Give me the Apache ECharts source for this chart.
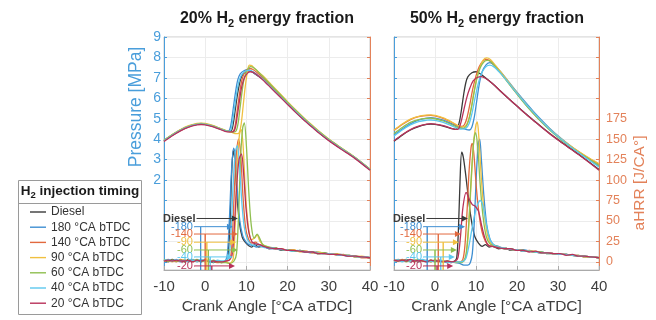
<!DOCTYPE html>
<html><head><meta charset="utf-8">
<script src="https://cdn.jsdelivr.net/npm/echarts@6/dist/echarts.min.js"></script>
<style>html,body{margin:0;padding:0;background:#fff}#c{width:656px;height:320px}</style>
</head><body><div id="c"></div>
<script>
// ---------- DATA ----------
const seriesNames = ['Diesel','180 °CA bTDC','140 °CA bTDC','90 °CA bTDC','60 °CA bTDC','40 °CA bTDC','20 °CA bTDC'];
const panelTitles = ['20% H','50% H'];
const caTicks = [-10,0,10,20,30,40];
const pressureTicks = [-2,-1,0,1,2,3,4,5,6,7,8,9];
const pressureLabels = [2,3,4,5,6,7,8,9];
const hrrTicks = [0,25,50,75,100,125,150,175,200,225,250,275];
const hrrLabels = [0,25,50,75,100,125,150,175];

// Pressure [MPa], 20% H2
const p20_diesel = [[-10,3.92],[-8,4.2],[-6,4.44],[-4,4.62],[-2,4.73],[-1,4.75],[0,4.73],[2,4.63],[4,4.48],[5.5,4.38],[6.3,4.4],[6.8,4.75],[7.3,5.45],[7.8,6.15],[8.3,6.7],[8.8,7.05],[9.5,7.25],[10.5,7.34],[11.2,7.32],[12,7.2],[14,6.93],[16,6.53],[18,6.13],[20,5.73],[22,5.33],[24,4.95],[26,4.6],[28,4.26],[30,3.95],[33,3.53],[36,3.13],[40,2.5]];
const p20_180 = [[-10,3.94],[-8,4.22],[-6,4.46],[-4,4.64],[-2,4.75],[-1,4.77],[0,4.75],[2,4.65],[4,4.49],[5.3,4.4],[5.9,4.45],[6.4,4.9],[6.9,5.65],[7.4,6.35],[7.9,6.9],[8.5,7.2],[9.5,7.36],[10.3,7.4],[11,7.36],[12,7.22],[14,6.95],[16,6.55],[18,6.15],[20,5.75],[22,5.35],[24,4.97],[26,4.62],[28,4.28],[30,3.97],[33,3.55],[36,3.15],[40,2.52]];
const p20_140 = [[-10,3.9],[-8,4.18],[-6,4.42],[-4,4.6],[-2,4.72],[-1,4.74],[0,4.72],[2,4.62],[4,4.47],[5.5,4.37],[6.6,4.36],[7.2,4.6],[7.7,5.3],[8.2,6.05],[8.7,6.7],[9.3,7.15],[10,7.38],[10.8,7.46],[11.5,7.42],[12.5,7.27],[14,7.0],[16,6.6],[18,6.19],[20,5.78],[22,5.38],[24,5.0],[26,4.64],[28,4.3],[30,3.98],[33,3.56],[36,3.15],[40,2.52]];
const p20_90 = [[-10,3.95],[-8,4.23],[-6,4.47],[-4,4.66],[-2,4.77],[-1,4.79],[0,4.77],[2,4.66],[4,4.5],[5.5,4.4],[6.5,4.33],[7.5,4.27],[8.2,4.3],[8.7,4.7],[9.2,5.6],[9.7,6.55],[10.2,7.25],[10.7,7.62],[11.3,7.6],[12,7.45],[14,7.1],[16,6.68],[18,6.26],[20,5.84],[22,5.43],[24,5.04],[26,4.68],[28,4.33],[30,4.01],[33,3.58],[36,3.17],[40,2.54]];
const p20_60 = [[-10,3.93],[-8,4.21],[-6,4.45],[-4,4.63],[-2,4.74],[-1,4.76],[0,4.74],[2,4.64],[4,4.48],[5.5,4.39],[6.8,4.35],[7.5,4.4],[8,4.8],[8.5,5.6],[9,6.4],[9.5,7.0],[10.2,7.38],[11,7.55],[11.6,7.52],[12.5,7.38],[14,7.06],[16,6.64],[18,6.22],[20,5.8],[22,5.4],[24,5.01],[26,4.65],[28,4.31],[30,3.99],[33,3.57],[36,3.16],[40,2.53]];
const p20_40 = [[-10,3.91],[-8,4.19],[-6,4.43],[-4,4.61],[-2,4.72],[-1,4.74],[0,4.72],[2,4.62],[4,4.47],[5.4,4.38],[6.1,4.4],[6.6,4.8],[7.1,5.5],[7.6,6.2],[8.1,6.75],[8.7,7.1],[9.5,7.3],[10.4,7.37],[11.2,7.34],[12.3,7.2],[14,6.93],[16,6.53],[18,6.13],[20,5.73],[22,5.34],[24,4.96],[26,4.61],[28,4.27],[30,3.96],[33,3.54],[36,3.14],[40,2.51]];
const p20_20 = [[-10,3.89],[-8,4.17],[-6,4.41],[-4,4.59],[-2,4.7],[-1,4.72],[0,4.7],[2,4.6],[4,4.45],[5.5,4.36],[6.7,4.36],[7.3,4.55],[7.8,5.15],[8.3,5.85],[8.8,6.5],[9.4,6.95],[10.2,7.22],[11,7.3],[11.8,7.26],[13,7.08],[14.5,6.8],[16,6.5],[18,6.1],[20,5.7],[22,5.3],[24,4.93],[26,4.58],[28,4.24],[30,3.93],[33,3.51],[36,3.11],[40,2.48]];

// Pressure [MPa], 50% H2
const p50_diesel = [[-10,3.9],[-8,4.2],[-6,4.45],[-4,4.62],[-2,4.72],[-1,4.74],[0,4.72],[2,4.64],[4,4.52],[5,4.48],[5.5,4.56],[6,4.9],[6.5,5.5],[7,6.2],[7.5,6.75],[8,7.05],[9,7.25],[10,7.3],[11,7.2],[12,7.05],[14,6.72],[16,6.35],[18,5.98],[20,5.62],[22,5.27],[24,4.93],[26,4.6],[28,4.28],[30,3.98],[33,3.55],[36,3.12],[40,2.52]];
const p50_180 = [[-10,4.2],[-8,4.5],[-6,4.75],[-4,4.93],[-2,5.03],[-1,5.05],[0,5.03],[2,4.93],[4,4.76],[5.5,4.62],[6.5,4.55],[7.5,4.48],[8.4,4.45],[9,4.6],[9.6,5.1],[10.2,5.9],[10.8,6.7],[11.5,7.3],[12.5,7.65],[13.4,7.75],[14.5,7.62],[16,7.3],[18,6.8],[20,6.3],[22,5.82],[24,5.36],[26,4.93],[28,4.53],[30,4.17],[33,3.68],[36,3.24],[40,2.66]];
const p50_140 = [[-10,4.42],[-8,4.72],[-6,4.96],[-4,5.1],[-2,5.16],[-1,5.17],[0,5.14],[2,5.02],[4,4.83],[5.5,4.66],[6.5,4.62],[7.2,4.72],[7.8,5.05],[8.5,5.7],[9.2,6.45],[10,7.1],[10.8,7.55],[11.7,7.83],[12.5,7.9],[13.5,7.82],[15,7.5],[17,7.0],[19,6.48],[21,5.98],[23,5.5],[25,5.06],[27,4.66],[29,4.29],[31,3.96],[34,3.52],[37,3.13],[40,2.78]];
const p50_90 = [[-10,4.44],[-8,4.74],[-6,4.98],[-4,5.12],[-2,5.18],[-1,5.19],[0,5.16],[2,5.04],[4,4.85],[5.5,4.68],[6.5,4.6],[7.5,4.66],[8.2,4.95],[8.8,5.5],[9.5,6.3],[10.2,7.0],[11,7.55],[11.8,7.88],[12.6,7.98],[13.5,7.9],[15,7.55],[17,7.05],[19,6.52],[21,6.01],[23,5.53],[25,5.08],[27,4.68],[29,4.31],[31,3.98],[34,3.54],[37,3.15],[40,2.8]];
const p50_60 = [[-10,4.27],[-8,4.57],[-6,4.82],[-4,4.96],[-2,5.02],[-1,5.03],[0,5.0],[2,4.89],[4,4.72],[5.5,4.58],[6.5,4.53],[7.5,4.6],[8.2,4.92],[8.8,5.45],[9.5,6.25],[10.2,6.95],[11,7.48],[11.9,7.78],[12.8,7.86],[13.7,7.78],[15,7.48],[17,6.98],[19,6.46],[21,5.95],[23,5.47],[25,5.03],[27,4.63],[29,4.26],[31,3.93],[34,3.5],[37,3.1],[40,2.72]];
const p50_40 = [[-10,4.15],[-8,4.45],[-6,4.7],[-4,4.86],[-2,4.93],[-1,4.94],[0,4.92],[2,4.82],[4,4.66],[5.5,4.53],[6.5,4.49],[7.5,4.52],[8.3,4.75],[9,5.25],[9.7,5.95],[10.4,6.6],[11.2,7.15],[12.2,7.5],[13.3,7.62],[14.3,7.55],[16,7.22],[18,6.74],[20,6.24],[22,5.76],[24,5.31],[26,4.88],[28,4.49],[30,4.13],[33,3.64],[36,3.2],[40,2.64]];
const p50_20 = [[-10,3.92],[-8,4.22],[-6,4.47],[-4,4.64],[-2,4.74],[-1,4.76],[0,4.74],[2,4.66],[4,4.53],[5,4.48],[5.7,4.5],[6.3,4.8],[7,5.4],[7.7,6.0],[8.5,6.5],[9.3,6.85],[10.3,7.02],[11.3,7.06],[12.3,6.98],[14,6.72],[16,6.35],[18,5.98],[20,5.62],[22,5.26],[24,4.92],[26,4.58],[28,4.26],[30,3.96],[33,3.53],[36,3.1],[40,2.48]];

// aHRR [J/CA°], 20% H2
const a20_diesel = [[-10,2],[-9,0],[-8,3],[-7,1],[-6,2],[-5,0],[-4,3],[-3,1],[-2,2],[-1,0],[0,2],[1,1],[2,-1],[3,0],[4,-1],[5,1],[5.5,6],[6,45],[6.4,105],[6.8,136],[7.2,124],[7.7,82],[8.3,48],[9,30],[9.7,24],[10.5,20],[11.3,18],[12,21],[13,18],[14,19],[15.5,16],[17,17],[18.5,14],[20,15],[21.5,13],[23,14],[24.5,12],[26,12],[27.5,10],[29,11],[30.5,9],[32,9],[33.5,8],[35,8],[36.5,6],[38,6],[40,5]];
const a20_180 = [[-10,1],[-9,3],[-8,1],[-7,2],[-6,0],[-5,2],[-4,1],[-3,3],[-2,0],[-1,2],[0,1],[1,2],[2,0],[3,1],[4,0],[5,2],[5.4,10],[5.9,55],[6.4,112],[6.9,139],[7.3,132],[7.8,88],[8.4,50],[9.1,32],[9.8,25],[10.6,21],[11.5,20],[12.5,18],[13.5,20],[15,17],[16.5,16],[18,16],[19.5,14],[21,15],[22.5,13],[24,13],[25.5,11],[27,12],[28.5,10],[30,10],[31.5,9],[33,9],[34.5,7],[36,7],[37.5,6],[39,6],[40,5]];
const a20_140 = [[-10,2],[-9,1],[-8,2],[-7,0],[-6,3],[-5,1],[-4,2],[-3,0],[-2,2],[-1,1],[0,3],[1,0],[2,1],[3,-1],[4,0],[5,1],[6,3],[6.5,22],[7,78],[7.5,128],[8.1,150],[8.6,132],[9.2,78],[9.8,42],[10.5,28],[11.3,23],[12.2,24],[13,21],[14,20],[15.5,17],[17,17],[18.5,15],[20,15],[21.5,14],[23,13],[24.5,13],[26,11],[27.5,11],[29,10],[30.5,10],[32,8],[33.5,9],[35,7],[36.5,7],[38,5],[40,5]];
const a20_90 = [[-10,1],[-9,2],[-8,0],[-7,2],[-6,1],[-5,3],[-4,0],[-3,2],[-2,1],[-1,2],[0,0],[1,2],[2,0],[3,1],[4,-1],[5,0],[6,-2],[6.8,4],[7.3,48],[7.8,118],[8.3,155],[8.7,162],[9.2,142],[9.8,82],[10.5,42],[11.2,27],[12,29],[12.6,33],[13.3,25],[14.3,20],[15.5,18],[17,16],[18.5,16],[20,14],[21.5,15],[23,12],[24.5,13],[26,11],[27.5,12],[29,10],[30.5,9],[32,10],[33.5,8],[35,8],[36.5,6],[38,7],[40,5]];
const a20_60 = [[-10,3],[-9,1],[-8,2],[-7,1],[-6,2],[-5,0],[-4,2],[-3,1],[-2,3],[-1,1],[0,1],[1,0],[2,2],[3,0],[4,-1],[5,-1],[6,-2],[7,1],[7.6,10],[8.1,58],[8.6,128],[9.1,164],[9.5,170],[10,142],[10.6,84],[11.2,44],[11.9,29],[12.6,34],[13.2,29],[14,21],[15.5,18],[17,17],[18.5,15],[20,15],[21.5,13],[23,14],[24.5,12],[26,12],[27.5,10],[29,11],[30.5,9],[32,9],[33.5,8],[35,8],[36.5,7],[38,6],[40,5]];
const a20_40 = [[-10,2],[-9,2],[-8,1],[-7,3],[-6,1],[-5,2],[-4,0],[-3,2],[-2,1],[-1,3],[0,1],[1,1],[2,0],[3,2],[4,1],[5,2],[5.8,8],[6.3,40],[6.8,96],[7.3,134],[7.8,142],[8.3,121],[8.9,72],[9.5,42],[10.2,28],[11,22],[11.8,20],[12.7,22],[13.5,19],[15,17],[16.5,17],[18,15],[19.5,15],[21,13],[22.5,14],[24,12],[25.5,12],[27,11],[28.5,10],[30,10],[31.5,9],[33,8],[34.5,8],[36,7],[37.5,6],[39,6],[40,5]];
const a20_20 = [[-10,1],[-9,2],[-8,1],[-7,2],[-6,1],[-5,1],[-4,2],[-3,0],[-2,2],[-1,1],[0,2],[1,0],[2,1],[3,0],[4,0],[5,1],[5.8,2],[6.5,8],[7,36],[7.6,90],[8.2,125],[8.8,132],[9.3,110],[9.9,66],[10.6,36],[11.4,24],[12.3,22],[13.2,21],[14.2,19],[15.5,17],[17,16],[18.5,16],[20,14],[21.5,14],[23,13],[24.5,12],[26,12],[27.5,10],[29,10],[30.5,9],[32,9],[33.5,8],[35,7],[36.5,7],[38,6],[40,5]];

// aHRR [J/CA°], 50% H2
const a50_diesel = [[-10,1],[-9,2],[-8,1],[-7,3],[-6,1],[-5,2],[-4,0],[-3,2],[-2,1],[-1,2],[0,0],[1,2],[2,1],[3,0],[4,0],[4.8,1],[5.3,5],[5.7,38],[6.1,98],[6.5,134],[6.9,128],[7.5,106],[8.1,80],[8.9,50],[9.7,31],[10.6,23],[11.5,19],[12.3,21],[13.2,18],[14,19],[15.5,16],[17,17],[18.5,14],[20,15],[21.5,13],[23,13],[24.5,12],[26,11],[27.5,11],[29,10],[30.5,9],[32,9],[33.5,8],[35,8],[36.5,6],[38,6],[40,5]];
const a50_180 = [[-10,1],[-9,3],[-8,1],[-7,2],[-6,0],[-5,2],[-4,1],[-3,2],[-2,0],[-1,1],[0,2],[1,0],[2,1],[3,-1],[4,0],[5,-1],[6,-2],[7,-4],[8,-4],[8.6,-1],[9.1,10],[9.6,50],[10.1,108],[10.6,146],[10.9,150],[11.3,126],[11.9,82],[12.6,46],[13.4,28],[14.3,21],[15.5,19],[17,16],[18.5,16],[20,14],[21.5,15],[23,13],[24.5,12],[26,12],[27.5,10],[29,10],[30.5,9],[32,9],[33.5,8],[35,7],[36.5,7],[38,6],[40,5]];
const a50_140 = [[-10,2],[-9,1],[-8,3],[-7,1],[-6,2],[-5,0],[-4,2],[-3,1],[-2,2],[-1,0],[0,2],[1,1],[2,0],[3,1],[4,-1],[5,0],[6,0],[6.8,3],[7.3,20],[7.8,60],[8.3,110],[8.8,140],[9.1,145],[9.5,131],[10.1,90],[10.8,56],[11.5,36],[12.3,25],[13.2,20],[14.2,19],[15.5,17],[17,17],[18.5,15],[20,15],[21.5,13],[23,14],[24.5,12],[26,11],[27.5,11],[29,10],[30.5,9],[32,9],[33.5,8],[35,7],[36.5,7],[38,6],[40,5]];
const a50_90 = [[-10,1],[-9,2],[-8,1],[-7,2],[-6,1],[-5,3],[-4,1],[-3,2],[-2,0],[-1,2],[0,1],[1,0],[2,1],[3,0],[4,0],[5,-1],[6,0],[7,1],[7.6,8],[8.2,40],[8.8,95],[9.4,145],[10,168],[10.3,171],[10.7,152],[11.3,102],[12,60],[12.8,33],[13.6,23],[14.5,20],[15.5,18],[17,17],[18.5,15],[20,15],[21.5,14],[23,13],[24.5,13],[26,11],[27.5,11],[29,10],[30.5,9],[32,9],[33.5,8],[35,8],[36.5,6],[38,6],[40,5]];
const a50_60 = [[-10,2],[-9,1],[-8,2],[-7,0],[-6,2],[-5,1],[-4,3],[-3,1],[-2,1],[-1,0],[0,2],[1,1],[2,0],[3,1],[4,0],[5,0],[6,-1],[7,1],[7.6,10],[8.2,45],[8.8,100],[9.4,145],[9.9,158],[10.4,141],[11,96],[11.7,56],[12.5,31],[13.4,22],[14.4,20],[15.5,18],[17,16],[18.5,16],[20,14],[21.5,14],[23,13],[24.5,12],[26,12],[27.5,10],[29,10],[30.5,9],[32,9],[33.5,8],[35,7],[36.5,7],[38,6],[40,5]];
const a50_40 = [[-10,1],[-9,2],[-8,0],[-7,2],[-6,1],[-5,2],[-4,1],[-3,3],[-2,1],[-1,1],[0,0],[1,2],[2,1],[3,0],[4,-1],[5,0],[6,0],[7,1],[7.6,5],[8.3,20],[9,40],[9.7,58],[10.4,70],[11,75],[11.5,72],[12,61],[12.7,41],[13.5,26],[14.5,20],[15.5,18],[17,17],[18.5,15],[20,15],[21.5,13],[23,13],[24.5,12],[26,11],[27.5,11],[29,10],[30.5,9],[32,9],[33.5,8],[35,7],[36.5,7],[38,6],[40,5]];
const a50_20 = [[-10,2],[-9,1],[-8,2],[-7,1],[-6,3],[-5,1],[-4,2],[-3,1],[-2,0],[-1,2],[0,1],[1,1],[2,0],[3,1],[4,0],[5,1],[5.6,5],[6.2,30],[6.8,66],[7.6,85],[8.4,76],[9.1,70],[9.8,68],[10.6,62],[11.3,46],[12.1,30],[13,20],[14,19],[15.5,17],[17,16],[18.5,16],[20,14],[21.5,14],[23,12],[24.5,13],[26,11],[27.5,11],[29,10],[30.5,10],[32,8],[33.5,9],[35,7],[36.5,7],[38,6],[40,5]];

// Injection annotations (label, aHRR level, label-end CA, vertical CA, arrow CA)
const annotLabels = ['Diesel','-180','-140','-90','-60','-40','-20'];
const annotLevel = [53,43,34,24,14.5,6,-5];
const annotStart20 = [-2.0,-2.6,-2.6,-2.6,-2.6,-2.6,-2.6];
const annotVert20 = [null,-1.1,0,0.4,0.8,1.2,1.6];
const annotEnd20 = [7.2,6.0,7.2,6.8,7.2,6.0,6.5];
const annotStart50 = [-2.0,-2.8,-2.8,-2.8,-2.8,-2.8,-2.8];
const annotVert50 = [null,-1.9,0.8,2.0,0.0,1.4,0.5];
const annotEnd50 = [7.3,6.6,5.6,5.1,4.6,4.1,3.7];

// ---------- BUILD ----------
const FONT = 'Liberation Sans, Arial, sans-serif';
const colors = ['#3a3a3a','#3f8fd2','#e2693e','#f0c040','#8fbf50','#5cc8ee','#b8325a'];
const BLUE = '#4a9edb', ORANGE = '#e3825a', GRIDC = '#ececec';
const pressure = [[p20_diesel,p20_180,p20_140,p20_90,p20_60,p20_40,p20_20],[p50_diesel,p50_180,p50_140,p50_90,p50_60,p50_40,p50_20]];
const hrr = [[a20_diesel,a20_180,a20_140,a20_90,a20_60,a20_40,a20_20],[a50_diesel,a50_180,a50_140,a50_90,a50_60,a50_40,a50_20]];
const annot = [[annotStart20,annotVert20,annotEnd20],[annotStart50,annotVert50,annotEnd50]];

const series = [];
for (let g = 0; g < 2; g++) {
  for (let i = 0; i < 7; i++) {
    series.push({name: seriesNames[i], type:'line', xAxisIndex:g, yAxisIndex:g*2, data: pressure[g][i],
      showSymbol:false, symbol:'none', smooth:0.3, lineStyle:{width:1.3, color:colors[i]}, itemStyle:{color:colors[i]}, z:2, silent:true});
  }
  for (let i = 0; i < 7; i++) {
    series.push({name: seriesNames[i], type:'line', xAxisIndex:g, yAxisIndex:g*2+1, data: hrr[g][i],
      showSymbol:false, symbol:'none', smooth:0.3, lineStyle:{width:1.3, color:colors[i]}, itemStyle:{color:colors[i]}, z:3, silent:true});
  }
  const [st, vt, en] = annot[g];
  for (let i = 0; i < 7; i++) {
    const y = annotLevel[i];
    const first = {value:[st[i], y], symbol:'circle', symbolSize:1,
      label:{show:true, position:'left', distance:1, formatter: annotLabels[i],
      color: colors[i], fontSize:11, fontFamily:FONT, fontWeight: i===0?'bold':'normal'}};
    const pts = [first];
    if (vt[i] !== null) { pts.push([vt[i], y], [vt[i], -10], [vt[i], y]); }
    pts.push({value:[en[i], y], symbol:'triangle', symbolSize:6, symbolRotate:-90});
    series.push({name:'annot'+g+i, type:'line', xAxisIndex:g, yAxisIndex:g*2+1, data: pts,
      symbol:'circle', symbolSize:0.01, showSymbol:true, showAllSymbol:true, lineStyle:{width:1, color:colors[i]}, itemStyle:{color:colors[i]}, z:6, silent:true, animation:false});
  }
}

function xAx(g){
  return {type:'value', gridIndex:g, min:-10, max:40, interval:10,
    axisLine:{show:true, onZero:false, lineStyle:{color:'#aaaaaa'}},
    axisTick:{show:true, inside:true, length:4, lineStyle:{color:'#aaaaaa'}},
    axisLabel:{color:'#404040', fontSize:15, fontFamily:FONT, margin:9},
    splitLine:{show:true, lineStyle:{color:GRIDC}},
    name:'Crank Angle [°CA aTDC]', nameLocation:'middle', nameGap:29,
    nameTextStyle:{color:'#404040', fontSize:15.5, fontFamily:FONT}};
}
function pAx(g, labels){
  return {type:'value', gridIndex:g, position:'left', min:-2.4, max:9,
    axisLine:{show:true, onZero:false, lineStyle:{color:BLUE}},
    axisTick:{show:true, inside:true, length:3, customValues:pressureTicks, lineStyle:{color:BLUE}},
    axisLabel:{show:labels, customValues:pressureLabels, color:BLUE, fontSize:14, fontFamily:FONT, margin:3},
    splitLine:{show:true, lineStyle:{color:GRIDC}}};
}
function hAx(g, labels){
  return {type:'value', gridIndex:g, position:'right', min:-10, max:275,
    axisLine:{show:true, onZero:false, lineStyle:{color:ORANGE}},
    axisTick:{show:true, inside:true, length:3, customValues:hrrTicks, lineStyle:{color:ORANGE}},
    axisLabel:{show:labels, customValues:hrrLabels, color:ORANGE, fontSize:12.5, fontFamily:FONT, margin:7},
    splitLine:{show:false}};
}

const titleRich = {b:{fontSize:16, fontWeight:'bold', fontFamily:FONT, fill:'#1a1a1a'},
                   s:{fontSize:11, fontWeight:'bold', fontFamily:FONT, fill:'#1a1a1a', padding:[9,0,0,0]}};
const option = {
  animation:false,
  backgroundColor:'#fff',
  grid:[{left:164, top:37, width:206, height:236, show:true, borderColor:'#c8c8c8', borderWidth:1},
        {left:394, top:37, width:205, height:236, show:true, borderColor:'#c8c8c8', borderWidth:1}],
  xAxis:[xAx(0), xAx(1)],
  yAxis:[pAx(0,true), hAx(0,false), pAx(1,false), hAx(1,true)],
  legend:{data:seriesNames, orient:'vertical', left:30, top:206, icon:'rect', itemWidth:16, itemHeight:1.4, itemGap:3.2, padding:0,
    textStyle:{fontSize:12, lineHeight:12, color:'#333', fontFamily:FONT}, selectedMode:false},
  graphic:[
    {type:'text', x:267, y:19, style:{text:'{b|'+panelTitles[0]+'}{s|2}{b| energy fraction}', rich:titleRich, align:'center', verticalAlign:'middle'}},
    {type:'text', x:497, y:19, style:{text:'{b|'+panelTitles[1]+'}{s|2}{b| energy fraction}', rich:titleRich, align:'center', verticalAlign:'middle'}},
    {type:'text', x:136, y:107, rotation:Math.PI/2, style:{text:'Pressure [MPa]', fill:BLUE, fontSize:17.5, fontFamily:FONT, align:'center', verticalAlign:'middle'}},
    {type:'text', x:640, y:183, rotation:Math.PI/2, style:{text:'aHRR [J/CA°]', fill:ORANGE, fontSize:15.5, fontFamily:FONT, align:'center', verticalAlign:'middle'}},
    {type:'rect', z:-1, shape:{x:18.5, y:180.5, width:123, height:134}, style:{fill:'#fff', stroke:'#9a9a9a', lineWidth:1}},
    {type:'line', shape:{x1:18.5, y1:203.5, x2:141.5, y2:203.5}, style:{stroke:'#9a9a9a', lineWidth:1}},
    {type:'text', x:80, y:191, style:{text:'{b|H}{s|2}{b| injection timing}', align:'center', verticalAlign:'middle',
      rich:{b:{fontSize:13.5, fontWeight:'bold', fontFamily:FONT, fill:'#1a1a1a'}, s:{fontSize:9.5, fontWeight:'bold', fontFamily:FONT, fill:'#1a1a1a', padding:[8,0,0,0]}}}}
  ],
  series: series
};
const chart = echarts.init(document.getElementById('c'), null, {renderer:'canvas'});
chart.setOption(option);
</script></body></html>
